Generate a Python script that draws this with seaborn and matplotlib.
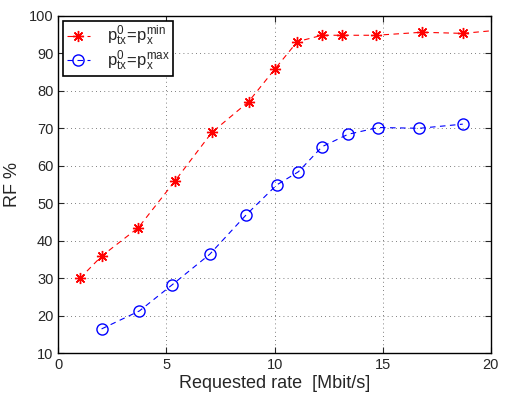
import numpy as np
import pandas as pd
import matplotlib
matplotlib.use("Agg")
import matplotlib.pyplot as plt
import seaborn as sns

# requested rate [Mbit/s] and RF % for the two power settings
rate_min = [1.0, 2.0, 3.7, 5.4, 7.1, 8.8, 10.0, 11.05, 12.2, 13.1, 14.7, 16.8, 18.7, 20.6]
rf_min = [30.0, 35.9, 43.5, 56.0, 68.9, 77.1, 85.7, 93.1, 94.8, 94.8, 94.8, 95.6, 95.3, 96.3]

rate_max = [2.0, 3.75, 5.25, 7.0, 8.7, 10.1, 11.1, 12.2, 13.4, 14.8, 16.7, 18.7]
rf_max = [16.5, 21.3, 28.2, 36.4, 47.0, 54.9, 58.4, 65.1, 68.4, 70.2, 70.0, 71.1]

labels = [r'$\mathregular{p_{tx}^{0}\!=\!p_{x}^{min}}$',
          r'$\mathregular{p_{tx}^{0}\!=\!p_{x}^{max}}$']

sns.set_style("ticks")
plt.rcParams['font.family'] = ['Liberation Sans', 'DejaVu Sans']
plt.rcParams['mathtext.fontset'] = 'custom'
plt.rcParams['mathtext.rm'] = 'Liberation Sans'

fig = plt.figure(figsize=(5.05, 3.94), dpi=100)
ax = fig.add_axes([0.1155, 0.1033, 0.8565, 0.8567])

dash = (0, (5, 4))
sns.lineplot(x=rate_min, y=rf_min, ax=ax, color='red', linestyle=dash, lw=0.8,
             marker=(8, 2, 0), markersize=8, markeredgewidth=1.0, markeredgecolor='red',
             label=labels[0])
sns.lineplot(x=rate_max, y=rf_max, ax=ax, color='blue', linestyle=dash, lw=0.8,
             marker='o', markersize=8, markerfacecolor='none', markeredgecolor='blue',
             markeredgewidth=1.0, label=labels[1])

ax.set_xlim(0, 20)
ax.set_ylim(10, 100)
ax.set_xticks(np.arange(0, 21, 5))
ax.set_yticks(np.arange(10, 101, 10))
ax.grid(True, linestyle=(0, (1, 4)), color='#555555', lw=0.6)
ax.tick_params(direction='in', top=True, right=True, labelsize=10.5, length=4)
for s in ax.spines.values():
    s.set_visible(True)
    s.set_linewidth(1.0)
    s.set_color('black')

ax.set_xlabel('Requested rate  [Mbit/s]', fontsize=13, labelpad=2)
ax.set_ylabel('RF %', fontsize=13, labelpad=6)

leg = ax.legend(loc='upper left', fontsize=12, frameon=True, fancybox=False,
                edgecolor='black', framealpha=1, borderaxespad=0.3,
                handlelength=1.4, labelspacing=0.0, borderpad=0.2,
                handletextpad=1.0)
leg.get_frame().set_linewidth(1.2)

fig.savefig('out.png', dpi=100)
